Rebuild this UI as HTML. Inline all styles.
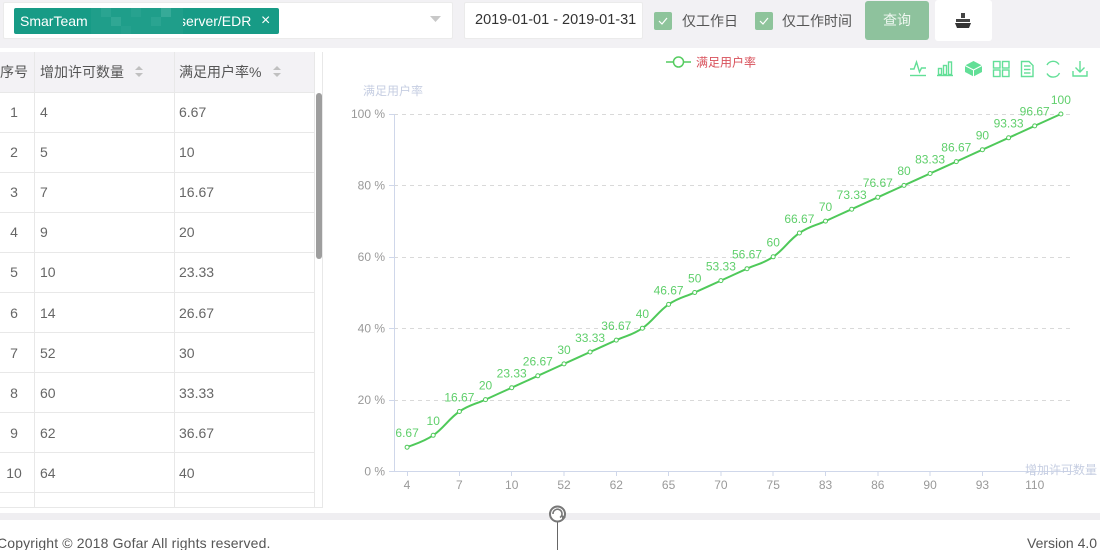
<!DOCTYPE html>
<html>
<head>
<meta charset="utf-8">
<style>
*{margin:0;padding:0;box-sizing:border-box;}
html,body{width:1100px;height:550px;overflow:hidden;background:#fff;}
body{position:relative;font-family:"Liberation Sans","Noto Sans CJK SC",sans-serif;}
.abs{position:absolute;}
.topband{left:0;top:0;width:1100px;height:48px;background:#f2f1f4;}
.box{background:#fff;border:1px solid #ebebeb;border-radius:2px;}
.txt{white-space:nowrap;line-height:1;}
.cb{width:18px;height:18px;background:#8ec49b;border-radius:2px;}
.cell{position:absolute;font-size:14px;color:#666;line-height:40px;white-space:nowrap;}
.hl{position:absolute;left:0;width:314px;height:1px;background:#e8e8e8;}
.vl{position:absolute;width:1px;background:#e8e8e8;}
</style>
</head>
<body>
<div class="abs topband"></div>

<!-- select box -->
<div class="abs box" style="left:3px;top:2px;width:450px;height:37px;"></div>
<div class="abs" style="left:14px;top:8px;width:265px;height:26px;background:#179b86;border-radius:2px;overflow:hidden;">
  <div class="abs txt" style="left:6px;top:6px;font-size:14px;color:#fff;">SmarTeam</div>
  <div class="abs txt" style="left:165px;top:6px;font-size:14px;color:#fff;">server/EDR</div>
  <div class="abs" style="left:77px;top:0;width:92px;height:26px;background:#1f9e8a;"></div>
  <div class="abs" style="left:87px;top:0;width:10px;height:9px;background:#2aa491;"></div>
  <div class="abs" style="left:97px;top:9px;width:10px;height:9px;background:#30a794;"></div>
  <div class="abs" style="left:117px;top:0;width:10px;height:9px;background:#27a28f;"></div>
  <div class="abs" style="left:137px;top:9px;width:10px;height:9px;background:#2aa491;"></div>
  <div class="abs" style="left:147px;top:0;width:10px;height:9px;background:#36aa98;"></div>
  <div class="abs" style="left:107px;top:18px;width:10px;height:8px;background:#25a18e;"></div>
  <div class="abs txt" style="left:247px;top:5px;font-size:16px;color:#fff;">×</div>
</div>
<svg class="abs" style="left:430px;top:15px;" width="12" height="8"><polygon points="0,1 11,1 5.5,7" fill="#c8c8c8"/></svg>

<!-- date box -->
<div class="abs box" style="left:464px;top:2px;width:179px;height:37px;"></div>
<div class="abs txt" style="left:475px;top:13px;font-size:14.5px;color:#333;">2019-01-01 - 2019-01-31</div>

<!-- checkboxes -->
<div class="abs cb" style="left:654px;top:12px;"></div>
<svg class="abs" style="left:654px;top:12px;" width="18" height="18"><polyline points="5,9 8,12 13,6" fill="none" stroke="#fff" stroke-width="1.2"/></svg>
<div class="abs txt" style="left:682px;top:14px;font-size:14px;color:#555;">仅工作日</div>
<div class="abs cb" style="left:755px;top:12px;"></div>
<svg class="abs" style="left:755px;top:12px;" width="18" height="18"><polyline points="5,9 8,12 13,6" fill="none" stroke="#fff" stroke-width="1.2"/></svg>
<div class="abs txt" style="left:782px;top:14px;font-size:14px;color:#555;">仅工作时间</div>

<!-- buttons -->
<div class="abs" style="left:865px;top:1px;width:64px;height:39px;background:#8ec29d;border-radius:3px;"></div>
<div class="abs txt" style="left:883px;top:13px;font-size:14px;color:#eef7f0;">查询</div>
<div class="abs" style="left:935px;top:0px;width:57px;height:41px;background:#fff;border-radius:3px;"></div>
<svg class="abs" style="left:953px;top:12px;" width="20" height="18">
  <rect x="8" y="1" width="4" height="5" fill="#444"/>
  <polygon points="3,7 17,7 17,10 3,10" fill="#444"/>
  <polygon points="2,11 18,11 16,16 4,16" fill="#333"/>
</svg>

<!-- table -->
<div class="abs" style="left:0;top:52px;width:323px;height:456px;background:#fff;border-right:1px solid #e8e8e8;border-bottom:1px solid #e8e8e8;"></div>
<div class="abs" style="left:0;top:52px;width:314px;height:40px;background:#f3f2f5;"></div>
<div class="hl" style="top:92px;"></div>
<div class="hl" style="top:132px;"></div>
<div class="hl" style="top:172px;"></div>
<div class="hl" style="top:212px;"></div>
<div class="hl" style="top:252px;"></div>
<div class="hl" style="top:292px;"></div>
<div class="hl" style="top:332px;"></div>
<div class="hl" style="top:372px;"></div>
<div class="hl" style="top:412px;"></div>
<div class="hl" style="top:452px;"></div>
<div class="hl" style="top:492px;"></div>
<div class="vl" style="left:34px;top:52px;height:456px;"></div>
<div class="vl" style="left:174px;top:52px;height:456px;"></div>
<div class="vl" style="left:314px;top:52px;height:456px;"></div>
<!-- scrollbar -->
<div class="abs" style="left:316px;top:93px;width:6px;height:166px;background:#9e9e9e;border-radius:3px;"></div>

<!-- header -->
<div class="cell" style="left:0;top:52px;width:28px;text-align:center;color:#555;">序号</div>
<div class="cell" style="left:40px;top:52px;color:#555;">增加许可数量</div>
<div class="cell" style="left:179px;top:52px;color:#555;">满足用户率%</div>
<svg class="abs" style="left:134px;top:65px;" width="10" height="14"><polygon points="5,1 9,5 1,5" fill="#c0c0c0"/><polygon points="1,8 9,8 5,12" fill="#c0c0c0"/></svg>
<svg class="abs" style="left:272px;top:65px;" width="10" height="14"><polygon points="5,1 9,5 1,5" fill="#c0c0c0"/><polygon points="1,8 9,8 5,12" fill="#c0c0c0"/></svg>

<!-- rows -->
<div class="cell" style="left:0;top:92px;width:28px;text-align:center;">1</div><div class="cell" style="left:40px;top:92px;">4</div><div class="cell" style="left:179px;top:92px;">6.67</div>
<div class="cell" style="left:0;top:132px;width:28px;text-align:center;">2</div><div class="cell" style="left:40px;top:132px;">5</div><div class="cell" style="left:179px;top:132px;">10</div>
<div class="cell" style="left:0;top:172px;width:28px;text-align:center;">3</div><div class="cell" style="left:40px;top:172px;">7</div><div class="cell" style="left:179px;top:172px;">16.67</div>
<div class="cell" style="left:0;top:212px;width:28px;text-align:center;">4</div><div class="cell" style="left:40px;top:212px;">9</div><div class="cell" style="left:179px;top:212px;">20</div>
<div class="cell" style="left:0;top:252px;width:28px;text-align:center;">5</div><div class="cell" style="left:40px;top:252px;">10</div><div class="cell" style="left:179px;top:252px;">23.33</div>
<div class="cell" style="left:0;top:293px;width:28px;text-align:center;">6</div><div class="cell" style="left:40px;top:293px;">14</div><div class="cell" style="left:179px;top:293px;">26.67</div>
<div class="cell" style="left:0;top:333px;width:28px;text-align:center;">7</div><div class="cell" style="left:40px;top:333px;">52</div><div class="cell" style="left:179px;top:333px;">30</div>
<div class="cell" style="left:0;top:373px;width:28px;text-align:center;">8</div><div class="cell" style="left:40px;top:373px;">60</div><div class="cell" style="left:179px;top:373px;">33.33</div>
<div class="cell" style="left:0;top:413px;width:28px;text-align:center;">9</div><div class="cell" style="left:40px;top:413px;">62</div><div class="cell" style="left:179px;top:413px;">36.67</div>
<div class="cell" style="left:0;top:453px;width:28px;text-align:center;">10</div><div class="cell" style="left:40px;top:453px;">64</div><div class="cell" style="left:179px;top:453px;">40</div>

<!-- footer band -->
<div class="abs" style="left:0;top:513px;width:1100px;height:7px;background:#efeef1;"></div>
<div class="abs txt" style="left:-3px;top:536px;font-size:14px;letter-spacing:0.15px;color:#555;">Copyright © 2018 Gofar All rights reserved.</div>
<div class="abs txt" style="left:1027px;top:536px;font-size:14px;color:#555;">Version 4.0</div>

<!-- chart -->
<svg class="abs" style="left:0;top:0;" width="1100" height="550" xmlns="http://www.w3.org/2000/svg" font-family="Liberation Sans, Noto Sans CJK SC, sans-serif">
  <!-- legend -->
  <line x1="666" y1="62" x2="691" y2="62" stroke="#55cc60" stroke-width="1.5"/>
  <circle cx="678.5" cy="62" r="5" fill="#fff" stroke="#55cc60" stroke-width="1.5"/>
  <text x="696" y="66.5" font-size="12" fill="#d8505a">满足用户率</text>

  <!-- toolbox -->
  <g fill="none" stroke="#62df97" stroke-width="1.4">
    <polyline points="910,69 914,69 916.5,62 919.5,72 921.5,68 926,68"/>
    <line x1="910" y1="75.5" x2="926" y2="75.5"/>
    <rect x="938.5" y="68.5" width="3" height="6"/>
    <rect x="943.5" y="65.5" width="3" height="9"/>
    <rect x="948.5" y="62" width="3" height="12.5"/>
    <line x1="937" y1="75.5" x2="953" y2="75.5"/>
    <rect x="993.5" y="61.5" width="6.5" height="6.5"/>
    <rect x="1002.5" y="61.5" width="6.5" height="6.5"/>
    <rect x="993.5" y="70" width="6.5" height="6.5"/>
    <rect x="1002.5" y="70" width="6.5" height="6.5"/>
    <polygon points="1021.5,61.5 1029,61.5 1033,65.5 1033,76.5 1021.5,76.5"/>
    <line x1="1024" y1="66" x2="1030.5" y2="66"/>
    <line x1="1024" y1="69.5" x2="1030.5" y2="69.5"/>
    <line x1="1024" y1="73" x2="1030.5" y2="73"/>
    <path d="M1047,65 A7,7 0 0 1 1059,64.5"/>
    <path d="M1059.5,73 A7,7 0 0 1 1047,73.5"/>
    <line x1="1080" y1="61" x2="1080" y2="72"/>
    <polyline points="1075.5,67.5 1080,72 1084.5,67.5"/>
    <polyline points="1073,71 1073,76 1087,76 1087,71"/>
  </g>
  <polygon points="973.5,61 982,65.5 982,72 973.5,76.5 965,72 965,65.5" fill="#62df97"/>
  <polyline points="965,65.5 973.5,70 982,65.5" fill="none" stroke="#fff" stroke-width="1"/>
  <line x1="973.5" y1="70" x2="973.5" y2="76.5" stroke="#fff" stroke-width="1"/>

  <!-- axis name y -->
  <text x="363" y="95" font-size="12" fill="#c6cee2">满足用户率</text>

  <!-- grid -->
  <g stroke="#d9d9d9" stroke-width="1" stroke-dasharray="4 4">
    <line x1="394" y1="114.5" x2="1072" y2="114.5"/>
    <line x1="394" y1="185.5" x2="1072" y2="185.5"/>
    <line x1="394" y1="257.5" x2="1072" y2="257.5"/>
    <line x1="394" y1="328.5" x2="1072" y2="328.5"/>
    <line x1="394" y1="400.5" x2="1072" y2="400.5"/>
  </g>
  <!-- axes -->
  <g stroke="#cfd7ea" stroke-width="1">
    <line x1="394.5" y1="114" x2="394.5" y2="471"/>
    <line x1="389" y1="471.5" x2="1074" y2="471.5"/>
    <line x1="389" y1="114.5" x2="394" y2="114.5"/>
    <line x1="389" y1="185.5" x2="394" y2="185.5"/>
    <line x1="389" y1="257.5" x2="394" y2="257.5"/>
    <line x1="389" y1="328.5" x2="394" y2="328.5"/>
    <line x1="389" y1="400.5" x2="394" y2="400.5"/>
    <line x1="407.5" y1="471" x2="407.5" y2="476"/>
    <line x1="459.5" y1="471" x2="459.5" y2="476"/>
    <line x1="511.5" y1="471" x2="511.5" y2="476"/>
    <line x1="564" y1="471" x2="564" y2="476"/>
    <line x1="616.5" y1="471" x2="616.5" y2="476"/>
    <line x1="668.5" y1="471" x2="668.5" y2="476"/>
    <line x1="721" y1="471" x2="721" y2="476"/>
    <line x1="773" y1="471" x2="773" y2="476"/>
    <line x1="825.5" y1="471" x2="825.5" y2="476"/>
    <line x1="878" y1="471" x2="878" y2="476"/>
    <line x1="930" y1="471" x2="930" y2="476"/>
    <line x1="982.5" y1="471" x2="982.5" y2="476"/>
    <line x1="1034.5" y1="471" x2="1034.5" y2="476"/>
  </g>
  <!-- y labels -->
  <g font-size="12" fill="#999" text-anchor="end">
    <text x="385" y="118">100 %</text>
    <text x="385" y="189.5">80 %</text>
    <text x="385" y="261">60 %</text>
    <text x="385" y="332.5">40 %</text>
    <text x="385" y="404">20 %</text>
    <text x="385" y="475.5">0 %</text>
  </g>
  <!-- x labels -->
  <g font-size="12" fill="#999" text-anchor="middle">
    <text x="407" y="489">4</text>
    <text x="459.4" y="489">7</text>
    <text x="511.7" y="489">10</text>
    <text x="564" y="489">52</text>
    <text x="616.3" y="489">62</text>
    <text x="668.6" y="489">65</text>
    <text x="720.9" y="489">70</text>
    <text x="773.2" y="489">75</text>
    <text x="825.5" y="489">83</text>
    <text x="877.8" y="489">86</text>
    <text x="930.1" y="489">90</text>
    <text x="982.4" y="489">93</text>
    <text x="1034.7" y="489">110</text>
  </g>
  <text x="1025" y="474" font-size="12" fill="#c6cee2">增加许可数量</text>

  <!-- series line -->
  <path fill="none" stroke="#4fc95a" stroke-width="2" stroke-linejoin="round" d="M407.1,447.2
  C412.3,444.8 422.7,442.4 433.2,435.3
  C443.7,428.2 448.9,418.6 459.4,411.5
  C469.9,404.4 475.0,404.4 485.5,399.6
  C496.0,394.8 501.2,392.5 511.7,387.7
  C522.2,382.9 527.3,380.6 537.8,375.8
  C548.3,371.0 553.5,368.7 564.0,363.9
  C574.5,359.1 579.6,356.8 590.1,352.0
  C600.6,347.2 605.8,344.9 616.3,340.1
  C626.8,335.3 631.9,335.3 642.4,328.2
  C652.9,321.1 658.1,311.5 668.6,304.4
  C679.1,297.3 684.2,297.3 694.7,292.5
  C705.2,287.7 710.4,285.4 720.9,280.6
  C731.4,275.8 736.5,273.5 747.0,268.7
  C757.5,263.9 762.7,263.9 773.2,256.8
  C783.7,249.7 788.9,240.1 799.4,233.0
  C809.9,225.9 815.0,225.9 825.5,221.1
  C836.0,216.3 841.2,214.0 851.7,209.2
  C862.2,204.4 867.3,202.1 877.8,197.3
  C888.3,192.5 893.5,190.2 904.0,185.4
  C914.5,180.6 919.6,178.3 930.1,173.5
  C940.6,168.7 945.8,166.4 956.3,161.6
  C966.8,156.8 971.9,154.5 982.4,149.7
  C992.9,144.9 998.1,142.6 1008.6,137.8
  C1019.1,133.0 1024.2,130.7 1034.7,125.9
  C1045.2,121.1 1055.7,116.4 1060.9,114.0"/>
  <!-- markers -->
  <g fill="#fff" stroke="#4fc95a" stroke-width="1">
    <circle cx="407.1" cy="447.2" r="2"/><circle cx="433.2" cy="435.3" r="2"/><circle cx="459.4" cy="411.5" r="2"/>
    <circle cx="485.5" cy="399.6" r="2"/><circle cx="511.7" cy="387.7" r="2"/><circle cx="537.8" cy="375.8" r="2"/>
    <circle cx="564.0" cy="363.9" r="2"/><circle cx="590.1" cy="352.0" r="2"/><circle cx="616.3" cy="340.1" r="2"/>
    <circle cx="642.4" cy="328.2" r="2"/><circle cx="668.6" cy="304.4" r="2"/><circle cx="694.7" cy="292.5" r="2"/>
    <circle cx="720.9" cy="280.6" r="2"/><circle cx="747.0" cy="268.7" r="2"/><circle cx="773.2" cy="256.8" r="2"/>
    <circle cx="799.4" cy="233.0" r="2"/><circle cx="825.5" cy="221.1" r="2"/><circle cx="851.7" cy="209.2" r="2"/>
    <circle cx="877.8" cy="197.3" r="2"/><circle cx="904.0" cy="185.4" r="2"/><circle cx="930.1" cy="173.5" r="2"/>
    <circle cx="956.3" cy="161.6" r="2"/><circle cx="982.4" cy="149.7" r="2"/><circle cx="1008.6" cy="137.8" r="2"/>
    <circle cx="1034.7" cy="125.9" r="2"/><circle cx="1060.9" cy="114.0" r="2"/>
  </g>
  <!-- data labels -->
  <g font-size="12" fill="#5fcf6b" text-anchor="middle">
    <text x="407.1" y="437">6.67</text>
    <text x="433.2" y="425">10</text>
    <text x="459.4" y="401.5">16.67</text>
    <text x="485.5" y="389.5">20</text>
    <text x="511.7" y="377.5">23.33</text>
    <text x="537.8" y="365.5">26.67</text>
    <text x="564.0" y="354">30</text>
    <text x="590.1" y="342">33.33</text>
    <text x="616.3" y="330">36.67</text>
    <text x="642.4" y="318">40</text>
    <text x="668.6" y="294.5">46.67</text>
    <text x="694.7" y="282.5">50</text>
    <text x="720.9" y="270.5">53.33</text>
    <text x="747.0" y="258.5">56.67</text>
    <text x="773.2" y="246.5">60</text>
    <text x="799.4" y="223">66.67</text>
    <text x="825.5" y="211">70</text>
    <text x="851.7" y="199">73.33</text>
    <text x="877.8" y="187">76.67</text>
    <text x="904.0" y="175">80</text>
    <text x="930.1" y="163.5">83.33</text>
    <text x="956.3" y="151.5">86.67</text>
    <text x="982.4" y="139.5">90</text>
    <text x="1008.6" y="127.5">93.33</text>
    <text x="1034.7" y="115.5">96.67</text>
    <text x="1060.9" y="104">100</text>
  </g>

  <!-- footer icon -->
  <line x1="557.5" y1="522" x2="557.5" y2="550" stroke="#666" stroke-width="1"/>
  <circle cx="557.5" cy="514" r="7.5" fill="#fff" stroke="#777" stroke-width="2"/>
  <path d="M553,514 A4.5,4.5 0 1 1 560,517.5" fill="none" stroke="#777" stroke-width="1.6"/>
  <polygon points="562,515 566,517 562,520" fill="#777"/>
</svg>
</body>
</html>
